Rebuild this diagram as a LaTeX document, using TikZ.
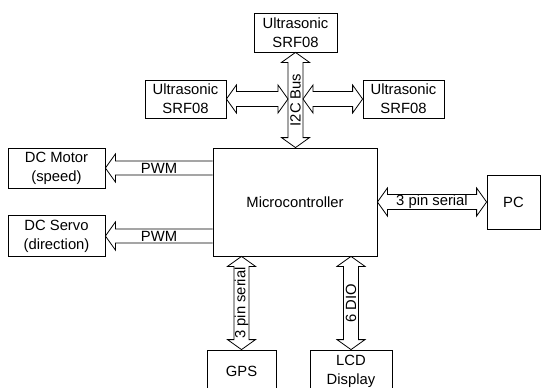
\documentclass[tikz,border=0pt]{standalone}
\usepackage{fontspec}
\setmainfont{Liberation Sans}
\usetikzlibrary{calc}
\tikzset{every node/.append style={font=\fontsize{14.8}{19}\selectfont}}
\tikzset{
  blockbox/.style={draw, align=center, inner sep=0pt},
  buslabel/.style={midway, inner sep=0pt},
  twowayarrow/.style={to path={
    let \p1=(\tikztostart), \p2=(\tikztotarget),
        \n1={atan2(\y2-\y1,\x2-\x1)}, \n2={veclen(\x2-\x1,\y2-\y1)} in
    {[shift={(\p1)}, rotate=\n1]
      (0pt,0pt) -- (10pt,14pt) -- (10pt,7.5pt) -- ({\n2-10pt},7.5pt) -- ({\n2-10pt},14pt)
      -- (\n2,0pt) -- ({\n2-10pt},-14pt) -- ({\n2-10pt},-7.5pt) -- (10pt,-7.5pt)
      -- (10pt,-14pt) -- cycle}}},
  onewayarrow/.style={to path={
    let \p1=(\tikztostart), \p2=(\tikztotarget),
        \n1={atan2(\y2-\y1,\x2-\x1)}, \n2={veclen(\x2-\x1,\y2-\y1)} in
    {[shift={(\p1)}, rotate=\n1]
      (0pt,7pt) -- ({\n2-10pt},7pt) -- ({\n2-10pt},14pt) -- (\n2,0pt)
      -- ({\n2-10pt},-14pt) -- ({\n2-10pt},-7pt) -- (0pt,-7pt)}}}
}

\begin{document}
\begin{tikzpicture}[x=1pt,y=-1pt,line width=0.8pt]
  \useasboundingbox (0,0) rectangle (544,388);
  % sensors on the bus
  \node[blockbox, minimum width=83pt, minimum height=39pt] (ustop) at (295.5,32.5) {Ultrasonic\\SRF08};
  \node[blockbox, minimum width=81pt, minimum height=38pt] (usleft) at (185.5,99) {Ultrasonic\\SRF08};
  \node[blockbox, minimum width=81pt, minimum height=38pt] (usright) at (403.5,99) {Ultrasonic\\SRF08};
  % controller and peripherals
  \node[blockbox, minimum width=164pt, minimum height=108pt] (mcu) at (295,202) {Microcontroller};
  \node[blockbox, minimum width=97pt, minimum height=40pt] (motor) at (56.5,168) {DC Motor\\(speed)};
  \node[blockbox, minimum width=97pt, minimum height=41pt] (servo) at (56.5,236) {DC Servo\\(direction)};
  \node[blockbox, minimum width=53pt, minimum height=54pt] (pc) at (513.5,202) {PC};
  \node[blockbox, minimum width=69pt, minimum height=42pt] (gps) at (241.5,371) {GPS};
  \node[blockbox, minimum width=82pt, minimum height=42pt] (lcd) at (351,371) {LCD\\Display};
  \coordinate (busleft) at (288,0);
  \coordinate (busright) at (303,0);

  % I2C bus
  \draw[twowayarrow] (ustop.south) to (ustop.south |- mcu.north);
  \path (ustop.south) -- (ustop.south |- mcu.north) node[buslabel, rotate=90] {I2C Bus};
  \draw[twowayarrow] (usleft.east) to (usleft.east -| busleft);
  \draw[twowayarrow] (usright.west -| busright) to (usright.west);

  % PWM outputs
  \draw[onewayarrow] (motor.east -| mcu.west) to (motor.east);
  \path (motor.east) -- (motor.east -| mcu.west) node[buslabel] {PWM};
  \draw[onewayarrow] (servo.east -| mcu.west) to (servo.east);
  \path (servo.east) -- (servo.east -| mcu.west) node[buslabel] {PWM};

  % serial links
  \draw[twowayarrow] (mcu.east |- pc.west) to (pc.west);
  \path (mcu.east |- pc.west) -- (pc.west) node[buslabel] {3 pin serial};
  \draw[twowayarrow] (gps.north |- mcu.south) to (gps.north);
  \path (gps.north |- mcu.south) -- (gps.north) node[buslabel, rotate=90] {3 pin serial};
  \draw[twowayarrow] (lcd.north |- mcu.south) to (lcd.north);
  \path (lcd.north |- mcu.south) -- (lcd.north) node[buslabel, rotate=90] {6 DIO};
\end{tikzpicture}
\end{document}
